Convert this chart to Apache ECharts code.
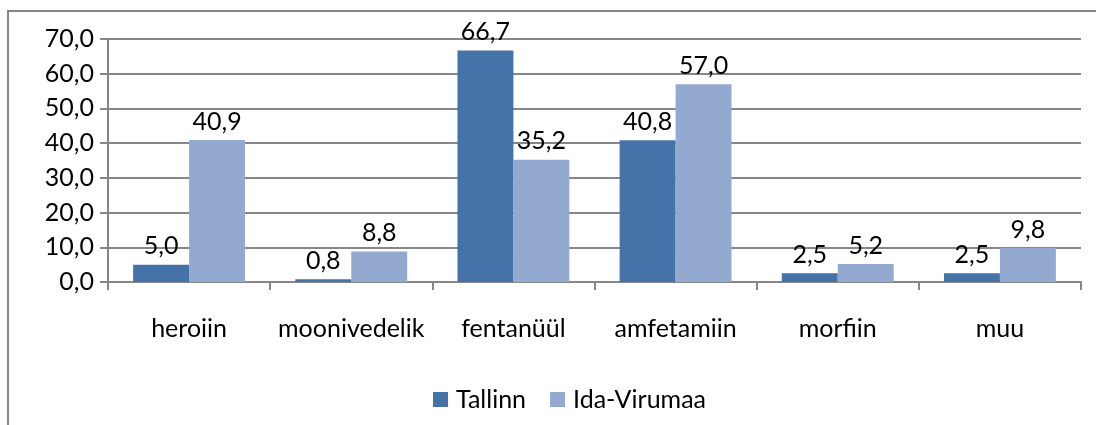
<!DOCTYPE html>
<html>
<head>
<meta charset="utf-8">
<script src="https://cdn.jsdelivr.net/npm/echarts@6/dist/echarts.min.js"></script>
<style>
html, body { margin: 0; padding: 0; background: #fff; }
#chart { width: 1096px; height: 425px; }
</style>
</head>
<body>
<div id="chart"></div>
<script>
var categories = ['heroiin', 'moonivedelik', 'fentanüül', 'amfetamiin', 'morfiin', 'muu'];
var tallinn = [5.0, 0.8, 66.7, 40.8, 2.5, 2.5];
var idaVirumaa = [40.9, 8.8, 35.2, 57.0, 5.2, 9.8];
var seriesNames = ['Tallinn', 'Ida-Virumaa'];

function fmt(v) {
	return Number(v).toFixed(1).replace('.', ',');
}

var font = 'Lato';
var gray = '#878787';

var myChart = echarts.init(document.getElementById('chart'));
var option = {
	animation: false,
	textStyle: { fontFamily: font },
	graphic: [{
		type: 'rect',
		shape: { x: 8, y: 11, width: 2000, height: 2000 },
		style: { fill: 'none', stroke: gray, lineWidth: 2 },
		silent: true
	}],
	grid: { left: 108, right: 15, top: 39, bottom: 143 },
	legend: {
		left: 428,
		top: 382,
		itemWidth: 15,
		itemHeight: 15,
		itemGap: 24,
		icon: 'rect',
		textStyle: { fontFamily: font, fontSize: 25, color: '#000', padding: [0, 0, 0, 3] },
		data: seriesNames
	},
	xAxis: {
		type: 'category',
		data: categories,
		axisLine: { lineStyle: { color: gray, width: 2 } },
		axisTick: { show: true, interval: 0, length: 8, lineStyle: { color: gray, width: 2 } },
		axisLabel: { interval: 0, fontFamily: font, fontSize: 25, color: '#000', margin: 34 }
	},
	yAxis: {
		type: 'value',
		min: 0,
		max: 70,
		interval: 10,
		axisLine: { show: true, lineStyle: { color: gray, width: 2 } },
		axisTick: { show: true, length: 8, lineStyle: { color: gray, width: 2 } },
		splitLine: { lineStyle: { color: gray, width: 2 } },
		axisLabel: {
			fontFamily: font, fontSize: 25, color: '#000', margin: 14,
			formatter: function (v) { return fmt(v); }
		}
	},
	series: [
		{
			name: seriesNames[0],
			type: 'bar',
			data: tallinn,
			barGap: 0,
			barCategoryGap: '31%',
			itemStyle: { color: '#4572a7' },
			label: {
				show: true, position: 'top', distance: 6,
				fontFamily: font, fontSize: 25, color: '#000',
				formatter: function (p) { return fmt(p.value); }
			}
		},
		{
			name: seriesNames[1],
			type: 'bar',
			data: idaVirumaa,
			barGap: 0,
			barCategoryGap: '31%',
			itemStyle: { color: '#93a9cf' },
			label: {
				show: true, position: 'top', distance: 6,
				fontFamily: font, fontSize: 25, color: '#000',
				formatter: function (p) { return fmt(p.value); }
			}
		}
	]
};
myChart.setOption(option);
</script>
</body>
</html>
